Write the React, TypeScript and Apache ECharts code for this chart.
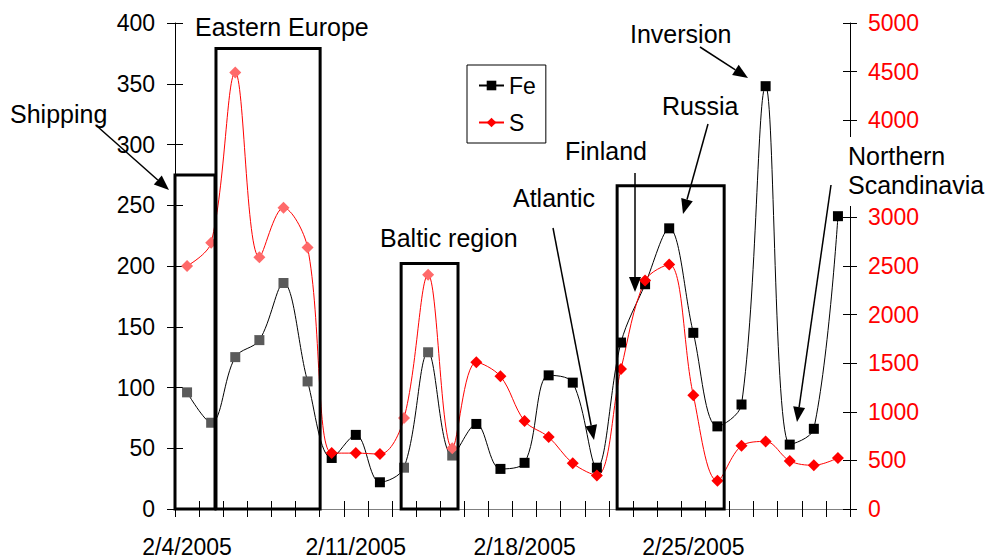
import React, { useEffect, useRef } from 'react';
import * as echarts from 'echarts';

// ---- data ----
const dates = [
  '2/4/2005', '2/5/2005', '2/6/2005', '2/7/2005', '2/8/2005', '2/9/2005', '2/10/2005',
  '2/11/2005', '2/12/2005', '2/13/2005', '2/14/2005', '2/15/2005', '2/16/2005', '2/17/2005',
  '2/18/2005', '2/19/2005', '2/20/2005', '2/21/2005', '2/22/2005', '2/23/2005', '2/24/2005',
  '2/25/2005', '2/26/2005', '2/27/2005', '2/28/2005', '3/1/2005', '3/2/2005', '3/3/2005',
];
const feValues = [96, 71, 125, 139, 186, 105, 42, 61, 22, 34, 129, 44, 70, 33, 38, 110, 104, 34, 137, 185, 231, 145, 68, 86, 348, 53, 66, 241];
const sValues = [2500, 2740, 4490, 2590, 3100, 2690, 575, 575, 565, 935, 2410, 625, 1510, 1365, 905, 740, 470, 345, 1440, 2350, 2515, 1170, 290, 650, 695, 495, 450, 525];
const hatchedIdx = [0, 1, 2, 3, 4, 5, 9, 10, 11];
// boxes: [x start (days from 2/4 left edge), x end, Fe-axis top]
const boxes = [
  [0, 1.66, 275],
  [1.7, 6.02, 379],
  [9.38, 11.74, 202],
  [18.34, 22.78, 266],
];
const feAxis = { min: 0, max: 400, interval: 50 };
const sAxis = { min: 0, max: 5000, interval: 500 };
// right-axis tick hidden behind the "Northern Scandinavia" text box in the reference
const sHiddenTick = 3500;

const FONT = '"Liberation Sans", Arial, Helvetica, sans-serif';

function arrow(x1: number, y1: number, x2: number, y2: number) {
  const dx = x2 - x1, dy = y2 - y1;
  const len = Math.hypot(dx, dy);
  const ux = dx / len, uy = dy / len;
  const hl = 15, hw = 6;
  const bx = x2 - ux * hl, by = y2 - uy * hl;
  return [
    { type: 'line', z: 100, shape: { x1, y1, x2: bx, y2: by }, style: { stroke: '#000', lineWidth: 1.5 } },
    {
      type: 'polygon', z: 100,
      shape: { points: [[x2, y2], [bx - uy * hw, by + ux * hw], [bx + uy * hw, by - ux * hw]] },
      style: { fill: '#000' },
    },
  ];
}

function label(t: string, x: number, y: number, extra: any = {}) {
  return {
    type: 'text', z: 101, x, y,
    style: { text: t, fontSize: 25, fontFamily: FONT, fill: '#000', align: 'left', verticalAlign: 'middle', ...extra },
  };
}

export default function App() {
  const ref = useRef<HTMLDivElement>(null);
  useEffect(() => {
    if (!ref.current) return;
    const chart = echarts.init(ref.current, null, { renderer: 'svg' });
    const tickLabel = { fontSize: 23, fontFamily: FONT, color: '#000' };
    const plain = (v: number) => String(v);
    const option: any = {
      animation: false,
      backgroundColor: '#fff',
      textStyle: { fontFamily: FONT },
      grid: { left: 175, right: 137, top: 23, bottom: 51, containLabel: false, outerBoundsMode: 'none' },
      legend: {
        data: ['Fe', 'S'],
        orient: 'vertical',
        left: 467, top: 65,
        borderColor: '#000', borderWidth: 1,
        padding: [9, 10, 9, 11],
        itemWidth: 25, itemHeight: 12, itemGap: 14,
        textStyle: { fontSize: 23, fontFamily: FONT, color: '#000' },
      },
      xAxis: [
        {
          type: 'category', data: dates, position: 'bottom', boundaryGap: true,
          axisLine: { lineStyle: { color: '#000', width: 1 } },
          axisTick: { show: true, interval: 0, length: 8, inside: false, lineStyle: { color: '#000' } },
          axisLabel: { ...tickLabel, interval: 6, margin: 26 },
          splitLine: { show: false },
        },
        {
          type: 'category', data: dates, position: 'bottom', boundaryGap: true,
          axisLine: { show: false },
          axisTick: { show: true, interval: 0, length: 8, inside: true, lineStyle: { color: '#000' } },
          axisLabel: { show: false },
          splitLine: { show: false },
        },
        {
          type: 'value', min: 0, max: dates.length, position: 'top',
          axisLine: { show: true, lineStyle: { color: '#808080', width: 1 } },
          axisTick: { show: false }, axisLabel: { show: false }, splitLine: { show: false },
        },
      ],
      yAxis: [
        {
          type: 'value', position: 'left', ...feAxis,
          axisLine: { show: true, lineStyle: { color: '#000', width: 1 } },
          axisTick: { show: true, length: 8, lineStyle: { color: '#000' } },
          axisLabel: { ...tickLabel, margin: 20, formatter: plain },
          splitLine: { show: false },
        },
        {
          type: 'value', position: 'right', ...sAxis,
          axisLine: { show: true, lineStyle: { color: '#000', width: 1 } },
          axisTick: { show: true, length: 7, lineStyle: { color: '#000' } },
          axisLabel: {
            ...tickLabel, color: '#ff0000', margin: 18,
            formatter: (v: number) => (v === sHiddenTick ? '' : String(v)),
          },
          splitLine: { show: false },
        },
        {
          type: 'value', position: 'left', ...feAxis,
          axisLine: { show: false },
          axisTick: { show: true, inside: true, length: 8, lineStyle: { color: '#000' } },
          axisLabel: { show: false }, splitLine: { show: false },
        },
        {
          type: 'value', position: 'right', ...sAxis,
          axisLine: { show: false },
          axisTick: { show: true, inside: true, length: 7, lineStyle: { color: '#000' } },
          axisLabel: { show: false }, splitLine: { show: false },
        },
      ],
      series: [
        {
          name: 'Fe', type: 'line', xAxisIndex: 0, yAxisIndex: 0, z: 3,
          data: feValues.map((v, i) =>
            hatchedIdx.includes(i) ? { value: v, itemStyle: { color: '#5a5a5a' } } : v),
          smooth: 0.35,
          symbol: 'rect', symbolSize: 10, showAllSymbol: true,
          itemStyle: { color: '#000' },
          lineStyle: { color: '#000', width: 1 },
        },
        {
          name: 'S', type: 'line', xAxisIndex: 0, yAxisIndex: 1, z: 3,
          data: sValues.map((v, i) =>
            hatchedIdx.includes(i) ? { value: v, itemStyle: { color: '#ff6a6a' } } : v),
          smooth: 0.35,
          symbol: 'diamond', symbolSize: 12, showAllSymbol: true,
          itemStyle: { color: '#ff0000' },
          lineStyle: { color: '#ff0000', width: 1 },
        },
        {
          type: 'custom', xAxisIndex: 2, yAxisIndex: 0, z: 4, silent: true,
          data: boxes,
          renderItem: (params: any, api: any) => {
            const p0 = api.coord([api.value(0), 0]);
            const p1 = api.coord([api.value(1), api.value(2)]);
            return {
              type: 'rect',
              shape: { x: p0[0], y: p1[1], width: p1[0] - p0[0], height: p0[1] - p1[1] },
              style: { fill: 'none', stroke: '#000', lineWidth: 3 },
            };
          },
        },
      ],
      graphic: [
        { type: 'rect', z: 99, shape: { x: 185, y: 12, width: 198, height: 28 }, style: { fill: '#fff' } },
        { type: 'rect', z: 99, shape: { x: 842, y: 137, width: 145, height: 69 }, style: { fill: '#fff' } },
        label('Shipping', 10, 114),
        label('Eastern Europe', 195, 27),
        label('Baltic region', 380, 238),
        label('Atlantic', 513, 198),
        label('Finland', 565, 151),
        label('Russia', 662, 106),
        label('Inversion', 630, 34),
        label('Northern\nScandinavia', 848, 170, { lineHeight: 29 }),
        ...arrow(98, 127, 169, 190),
        ...arrow(553, 228, 594, 440),
        ...arrow(635, 173, 635, 292),
        ...arrow(708, 124, 683, 214),
        ...arrow(700, 47, 748, 78),
        ...arrow(831, 185, 797, 422),
      ],
    };
    chart.setOption(option);
    return () => chart.dispose();
  }, []);
  return <div ref={ref} style={{ width: 987, height: 560, position: 'absolute', left: 0, top: 0 }} />;
}
